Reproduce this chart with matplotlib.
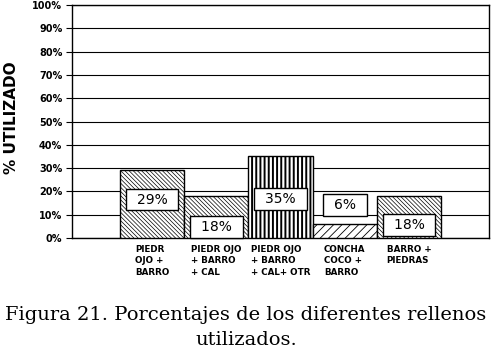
import matplotlib
matplotlib.use("Agg")
import matplotlib.pyplot as plt

# Datos de la figura 21
categorias = ["PIEDR\nOJO +\nBARRO",
              "PIEDR OJO\n+ BARRO\n+ CAL",
              "PIEDR OJO\n+ BARRO\n+ CAL+ OTR",
              "CONCHA\nCOCO +\nBARRO",
              "BARRO +\nPIEDRAS"]
porcentajes = [29, 18, 35, 6, 18]
etiqueta_y = [16.5, 4.7, 16.7, 14.2, 5.6]
tramas = ["\\" * 8, "\\" * 8, "||||", "////", "\\" * 8]
grosor_trama = [0.5, 0.5, 1.4, 0.6, 0.5]
ticks_y = list(range(0, 101, 10))

fig = plt.figure(figsize=(4.92, 3.54), dpi=100)
ax = fig.add_axes([72 / 492, (354 - 238) / 354, (489 - 72) / 492, 233 / 354])

x = list(range(len(categorias)))
for i in x:
    with plt.rc_context({"hatch.linewidth": grosor_trama[i]}):
        ax.bar(i, porcentajes[i], width=1.0, color="white",
               edgecolor="black", hatch=tramas[i], linewidth=1.0,
               zorder=3)
    # cuadro blanco con el porcentaje
    ax.text(i, etiqueta_y[i], f"\u2002{porcentajes[i]}%\u2002", ha="center",
            va="center", fontsize=10, zorder=5,
            bbox=dict(boxstyle="square,pad=0.28", fc="white",
                      ec="black", lw=1.0))

ax.set_xlim(-1.245, 5.245)
ax.set_ylim(0, 100)
ax.set_yticks(ticks_y)
ax.set_yticklabels([f"{t}%" for t in ticks_y], fontsize=7,
                   fontweight="bold")
ax.yaxis.grid(True, color="black", linewidth=0.8, zorder=0)
ax.set_axisbelow(True)
ax.tick_params(axis="y", direction="out", length=4, width=0.8, pad=3)
ax.set_xticks(x)
ax.set_xticklabels(categorias, fontsize=6.3, fontweight="bold",
                   multialignment="left", linespacing=1.35)
ax.tick_params(axis="x", length=0, pad=5)
for s in ax.spines.values():
    s.set_linewidth(1.0)
    s.set_color("black")

fig.text(12 / 492, 1 - 118 / 354, "% UTILIZADO", rotation=90,
         ha="center", va="center", fontsize=11, fontweight="bold")

fig.text(0.5, 1 - 315 / 354, "Figura 21. Porcentajes de los diferentes rellenos",
         ha="center", va="center", fontsize=14, family="DejaVu Serif")
fig.text(0.5, 1 - 340 / 354, "utilizados.", ha="center", va="center",
         fontsize=14, family="DejaVu Serif")

fig.savefig("out.png", dpi=100)
